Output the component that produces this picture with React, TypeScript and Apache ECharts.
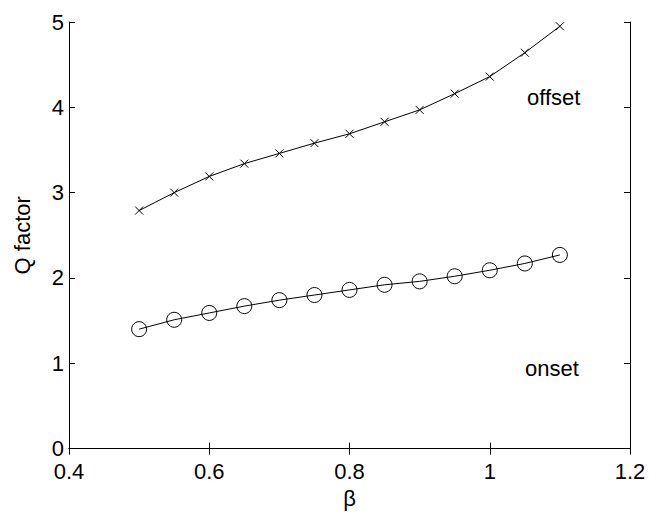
import React, { useEffect, useRef } from "react";
import * as echarts from "echarts";

const beta = [0.5, 0.55, 0.6, 0.65, 0.7, 0.75, 0.8, 0.85, 0.9, 0.95, 1.0, 1.05, 1.1];
const offsetQ = [2.79, 3.0, 3.19, 3.34, 3.46, 3.58, 3.69, 3.83, 3.97, 4.16, 4.36, 4.64, 4.95];
const onsetQ = [1.4, 1.51, 1.59, 1.67, 1.74, 1.8, 1.86, 1.92, 1.96, 2.02, 2.09, 2.17, 2.27];
const annotations = ["offset", "onset"];

const FONT = "Liberation Sans, Arial, Helvetica, sans-serif";

export default function App() {
  const ref = useRef<HTMLDivElement>(null);
  useEffect(() => {
    if (!ref.current) return;
    const chart = echarts.init(ref.current, null, { renderer: "svg" });
    const axisLine = { show: true, lineStyle: { color: "#000", width: 1 } };
    const tick = { show: true, inside: true, length: 6, lineStyle: { color: "#000", width: 1 } };
    const lab = { color: "#000", fontSize: 22, lineHeight: 19, fontFamily: FONT };
    const xBase = { type: "value", min: 0.4, max: 1.2, interval: 0.2, splitLine: { show: false }, axisLine, axisTick: tick };
    const yBase = { type: "value", min: 0, max: 5, interval: 1, splitLine: { show: false }, axisLine, axisTick: tick };
    chart.setOption({
      animation: false,
      backgroundColor: "#fff",
      grid: { left: 69, right: 19, top: 22, bottom: 58 },
      xAxis: [
        {
          ...xBase,
          position: "bottom",
          name: "β",
          nameLocation: "middle",
          nameGap: 34,
          nameTextStyle: { color: "#000", fontSize: 22, fontFamily: FONT },
          axisLabel: { ...lab, margin: 13 },
        },
        { ...xBase, position: "top", axisLabel: { show: false } },
      ],
      yAxis: [
        {
          ...yBase,
          position: "left",
          name: "Q factor",
          nameLocation: "middle",
          nameGap: 36,
          nameTextStyle: { color: "#000", fontSize: 22, fontFamily: FONT },
          axisLabel: { ...lab, margin: 5, padding: [0, 0, 6, 0] },
        },
        { ...yBase, position: "right", axisLabel: { show: false } },
      ],
      series: [
        {
          type: "line",
          data: beta.map((b, i) => [b, offsetQ[i]]),
          symbol: "path://M0,0L10,10M10,0L0,10",
          symbolSize: 8,
          showAllSymbol: true,
          lineStyle: { color: "#000", width: 1 },
          itemStyle: { color: "none", borderColor: "#000", borderWidth: 1 },
        },
        {
          type: "line",
          data: beta.map((b, i) => [b, onsetQ[i]]),
          symbol: "circle",
          symbolSize: 15,
          showAllSymbol: true,
          lineStyle: { color: "#000", width: 1 },
          itemStyle: { color: "none", borderColor: "#000", borderWidth: 1 },
        },
      ],
      graphic: [
        { type: "text", x: 527, y: 97, style: { text: annotations[0], fill: "#000", fontSize: 22, fontFamily: FONT, verticalAlign: "middle" } },
        { type: "text", x: 525, y: 368, style: { text: annotations[1], fill: "#000", fontSize: 22, fontFamily: FONT, verticalAlign: "middle" } },
      ],
    });
    return () => chart.dispose();
  }, []);
  return <div ref={ref} style={{ position: "fixed", left: 0, top: 0, width: 649, height: 514 }} />;
}
